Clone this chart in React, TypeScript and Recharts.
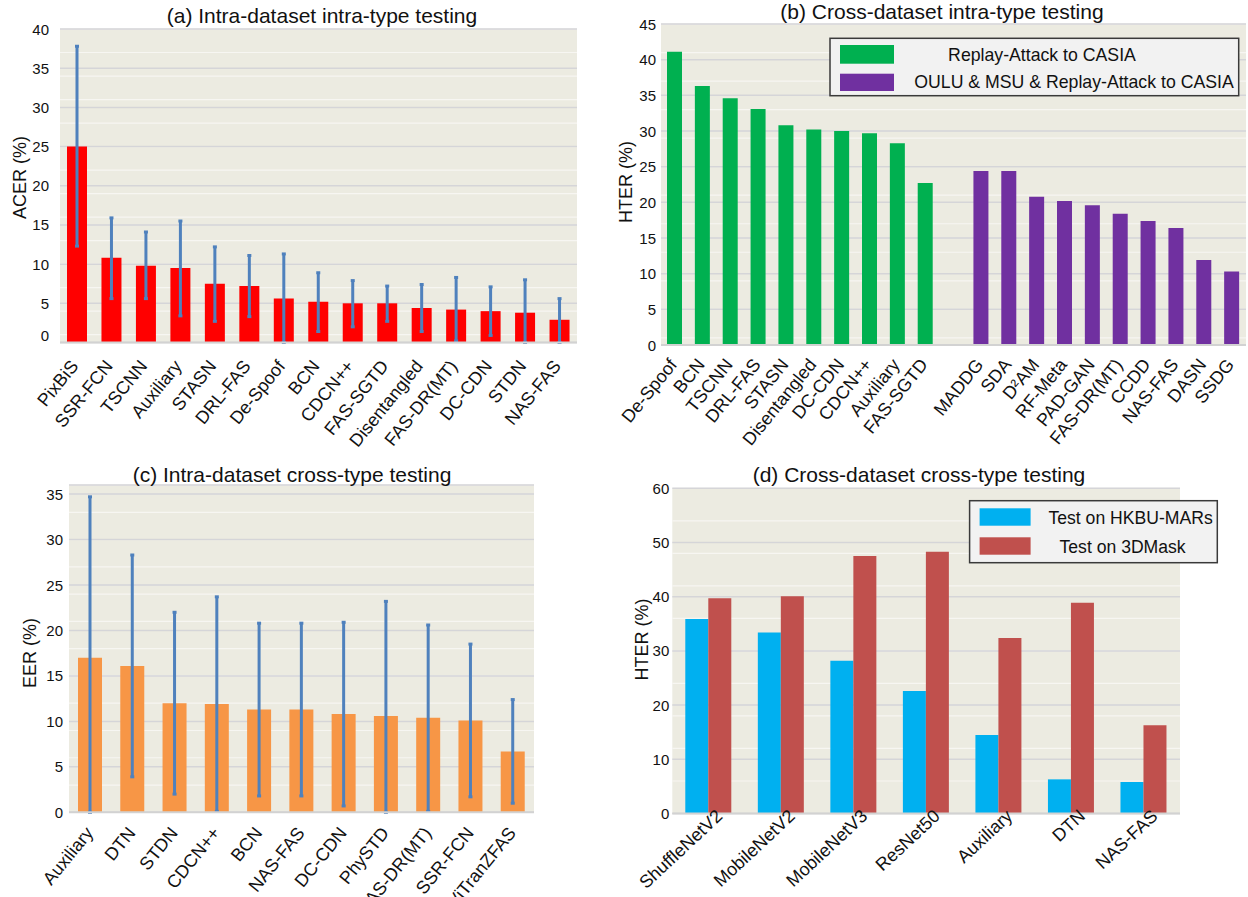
import React from "react"
import { Bar, BarChart, CartesianGrid, ErrorBar, XAxis, YAxis } from "recharts"

const FONT = '"Liberation Sans", Arial, Helvetica, sans-serif'
const BG = "#ecebe1"
const MINOR = "#f7f6f2"
const MAJOR = "#d5d5d8"
const ERR = "#4f81bd"

// (a) intra-dataset intra-type
const acerMethods = ["PixBiS", "SSR-FCN", "TSCNN", "Auxiliary", "STASN", "DRL-FAS", "De-Spoof", "BCN", "CDCN++", "FAS-SGTD", "Disentangled", "FAS-DR(MT)", "DC-CDN", "STDN", "NAS-FAS"]
const acerValues = [25.0, 10.8, 9.8, 9.5, 7.5, 7.2, 5.6, 5.2, 5.0, 5.0, 4.4, 4.2, 4.0, 3.8, 2.9]
const acerLow = [12.3, 5.6, 5.6, 3.4, 2.7, 3.3, 0, 1.4, 2.0, 2.7, 1.4, 0.2, 0.9, 0, 0]
const acerHigh = [37.8, 15.9, 14.1, 15.5, 12.2, 11.1, 11.3, 8.9, 7.9, 7.2, 7.4, 8.3, 7.1, 8.0, 5.6]
const acerTicks = [0, 5, 10, 15, 20, 25, 30, 35, 40]

// (b) cross-dataset intra-type
const raMethods = ["De-Spoof", "BCN", "TSCNN", "DRL-FAS", "STASN", "Disentangled", "DC-CDN", "CDCN++", "Auxiliary", "FAS-SGTD"]
const raValues = [41.1, 36.3, 34.6, 33.1, 30.8, 30.2, 30.0, 29.7, 28.3, 22.7]
const omrMethods = ["MADDG", "SDA", "D²AM", "RF-Meta", "PAD-GAN", "FAS-DR(MT)", "CCDD", "NAS-FAS", "DASN", "SSDG"]
const omrValues = [24.4, 24.4, 20.8, 20.2, 19.6, 18.4, 17.4, 16.4, 11.9, 10.3]
const crossTicks = [0, 5, 10, 15, 20, 25, 30, 35, 40, 45]

// (c) intra-dataset cross-type
const eerMethods = ["Auxiliary", "DTN", "STDN", "CDCN++", "BCN", "NAS-FAS", "DC-CDN", "PhySTD", "FAS-DR(MT)", "SSR-FCN", "ViTranZFAS"]
const eerValues = [17.0, 16.1, 12.0, 11.9, 11.3, 11.3, 10.8, 10.6, 10.4, 10.1, 6.7]
const eerLow = [0, 3.9, 2.0, 0.1, 1.8, 1.8, 0.7, 0, 0.1, 1.7, 1.0]
const eerHigh = [34.7, 28.3, 22.0, 23.7, 20.8, 20.8, 20.9, 23.2, 20.6, 18.5, 12.4]
const eerTicks = [0, 5, 10, 15, 20, 25, 30, 35]

// (d) cross-dataset cross-type
const hterMethods = ["ShuffleNetV2", "MobileNetV2", "MobileNetV3", "ResNet50", "Auxiliary", "DTN", "NAS-FAS"]
const hkbuValues = [35.9, 33.4, 28.2, 22.6, 14.5, 6.3, 5.8]
const mask3dValues = [39.7, 40.1, 47.5, 48.3, 32.4, 38.9, 16.3]
const hterTicks = [0, 10, 20, 30, 40, 50, 60]

// minor grid values, one line per step
const steps = (max: number, step: number) => {
  const out: number[] = []
  for (let v = 0; v <= max; v += step) out.push(v)
  return out
}

const acerData = acerMethods.map((name, i) => ({
  name,
  value: acerValues[i],
  err: [acerValues[i] - acerLow[i], acerHigh[i] - acerValues[i]],
}))

const crossData = [
  ...raMethods.map((name, i) => ({ name, ra: raValues[i], omr: null as number | null })),
  { name: "", ra: null, omr: null },
  ...omrMethods.map((name, i) => ({ name, ra: null as number | null, omr: omrValues[i] })),
]

const eerData = eerMethods.map((name, i) => ({
  name,
  value: eerValues[i],
  err: [eerValues[i] - eerLow[i], eerHigh[i] - eerValues[i]],
}))

const hterData = hterMethods.map((name, i) => ({ name, hkbu: hkbuValues[i], mask: mask3dValues[i] }))

function AngledTick(props: any) {
  const { x, y, payload, angle, dx, dy } = props
  const tx = x + dx
  const ty = y + dy
  return (
    <text
      x={tx}
      y={ty}
      transform={`rotate(${angle} ${tx} ${ty})`}
      textAnchor="end"
      fontSize={18}
      fontFamily={FONT}
      fill="#111"
    >
      {payload.value}
    </text>
  )
}

function ValueTick(props: any) {
  const { x, y, payload, zeroShift = 0 } = props
  const shift = payload.value === 0 ? zeroShift : 0
  return (
    <text x={x} y={y + shift} textAnchor="end" dominantBaseline="central" fontSize={15} fontFamily={FONT} fill="#111">
      {payload.value}
    </text>
  )
}

const axisLineStyle = { stroke: "#d2d2d2", strokeWidth: 2 }

export default function App() {
  return (
    <div style={{ position: "absolute", left: 0, top: 0, width: 1248, height: 897, background: "#fff", fontFamily: FONT }}>
      {/* (a) */}
      <div style={{ position: "absolute", left: 0, top: 0 }}>
        <BarChart width={620} height={450} data={acerData} margin={{ top: 29, right: 43, bottom: 0, left: 20 }}>
          <XAxis
            dataKey="name"
            interval={0}
            height={107.5}
            tickSize={0}
            tickMargin={0}
            tickLine={false}
            axisLine={axisLineStyle}
            tick={(p: any) => <AngledTick {...p} angle={-51} dx={2} dy={24} />}
          />
          <YAxis
            domain={[0, 40]}
            ticks={acerTicks}
            width={40}
            axisLine={false}
            tickLine={false}
            tickSize={0}
            tickMargin={11}
            tick={(p: any) => <ValueTick {...p} zeroShift={-7} />}
          />
          <CartesianGrid vertical={false} horizontalValues={steps(40, 1)} stroke={MINOR} strokeWidth={1.2} fill={BG} />
          <CartesianGrid vertical={false} stroke={MAJOR} strokeWidth={1.5} />
          <Bar dataKey="value" fill="#ff0000" barSize={20} isAnimationActive={false}>
            <ErrorBar dataKey="err" direction="y" width={2} strokeWidth={3} stroke={ERR} isAnimationActive={false} />
          </Bar>
        </BarChart>
      </div>

      {/* (b) */}
      <div style={{ position: "absolute", left: 600, top: 0 }}>
        <BarChart width={648} height={450} data={crossData} margin={{ top: 24, right: 2, bottom: 0, left: 25 }}>
          <XAxis
            dataKey="name"
            interval={0}
            height={105}
            tickSize={0}
            tickMargin={0}
            tickLine={false}
            axisLine={axisLineStyle}
            tick={(p: any) => <AngledTick {...p} angle={-51} dx={3} dy={20} />}
          />
          <YAxis
            domain={[0, 45]}
            ticks={crossTicks}
            width={36}
            axisLine={false}
            tickLine={false}
            tickSize={0}
            tickMargin={5}
            tick={(p: any) => <ValueTick {...p} />}
          />
          <CartesianGrid vertical={false} horizontalValues={steps(45, 1)} stroke={MINOR} strokeWidth={1.2} fill={BG} />
          <CartesianGrid vertical={false} stroke={MAJOR} strokeWidth={1.5} />
          <Bar dataKey="ra" stackId="s" fill="#00b050" barSize={15} isAnimationActive={false} />
          <Bar dataKey="omr" stackId="s" fill="#7030a0" barSize={15} isAnimationActive={false} />
        </BarChart>
      </div>

      {/* (c) */}
      <div style={{ position: "absolute", left: 0, top: 450 }}>
        <BarChart width={620} height={447} data={eerData} margin={{ top: 35, right: 86, bottom: 0, left: 29 }}>
          <XAxis
            dataKey="name"
            interval={0}
            height={84.7}
            tickSize={0}
            tickMargin={0}
            tickLine={false}
            axisLine={axisLineStyle}
            tick={(p: any) => <AngledTick {...p} angle={-51} dx={4} dy={21} />}
          />
          <YAxis
            domain={[0, 36]}
            ticks={eerTicks}
            width={40}
            axisLine={false}
            tickLine={false}
            tickSize={0}
            tickMargin={6}
            tick={(p: any) => <ValueTick {...p} />}
          />
          <CartesianGrid vertical={false} horizontalValues={steps(36, 1)} stroke={MINOR} strokeWidth={1.2} fill={BG} />
          <CartesianGrid vertical={false} stroke={MAJOR} strokeWidth={1.5} />
          <Bar dataKey="value" fill="#f79646" barSize={24} isAnimationActive={false}>
            <ErrorBar dataKey="err" direction="y" width={2} strokeWidth={3} stroke={ERR} isAnimationActive={false} />
          </Bar>
        </BarChart>
      </div>

      {/* (d) */}
      <div style={{ position: "absolute", left: 620, top: 450 }}>
        <BarChart width={628} height={447} data={hterData} barGap={0} margin={{ top: 38.3, right: 68, bottom: 0, left: 22.3 }}>
          <XAxis
            dataKey="name"
            interval={0}
            height={83.5}
            tickSize={0}
            tickMargin={0}
            tickLine={false}
            axisLine={axisLineStyle}
            tick={(p: any) => <AngledTick {...p} angle={-43} dx={15} dy={4} />}
          />
          <YAxis
            domain={[0, 60]}
            ticks={hterTicks}
            width={30}
            axisLine={false}
            tickLine={false}
            tickSize={0}
            tickMargin={3}
            tick={(p: any) => <ValueTick {...p} />}
          />
          <CartesianGrid vertical={false} horizontalValues={steps(60, 2)} stroke={MINOR} strokeWidth={1.2} fill={BG} />
          <CartesianGrid vertical={false} stroke={MAJOR} strokeWidth={1.5} />
          <Bar dataKey="hkbu" fill="#00b0f0" barSize={23} isAnimationActive={false} />
          <Bar dataKey="mask" fill="#c0504d" barSize={23} isAnimationActive={false} />
        </BarChart>
      </div>

      {/* titles, axis titles, legends */}
      <svg width={1248} height={897} style={{ position: "absolute", left: 0, top: 0, pointerEvents: "none" }} fontFamily={FONT}>
        <text x={322} y={22.7} textAnchor="middle" fontSize={21} fill="#111">(a) Intra-dataset intra-type testing</text>
        <text x={942} y={19} textAnchor="middle" fontSize={21} fill="#111">(b) Cross-dataset intra-type testing</text>
        <text x={292} y={481.7} textAnchor="middle" fontSize={21} fill="#111">(c) Intra-dataset cross-type testing</text>
        <text x={919} y={481.7} textAnchor="middle" fontSize={21} fill="#111">(d) Cross-dataset cross-type testing</text>

        <text transform="translate(20 177.5) rotate(-90)" textAnchor="middle" dominantBaseline="central" fontSize={18} fill="#111">ACER (%)</text>
        <text transform="translate(626 182) rotate(-90)" textAnchor="middle" dominantBaseline="central" fontSize={18} fill="#111">HTER (%)</text>
        <text transform="translate(30 653) rotate(-90)" textAnchor="middle" dominantBaseline="central" fontSize={18} fill="#111">EER (%)</text>
        <text transform="translate(642 639.5) rotate(-90)" textAnchor="middle" dominantBaseline="central" fontSize={18} fill="#111">HTER (%)</text>

        <rect x={830} y={38.3} width={408.7} height={57.4} fill="#f2f2f2" stroke="#3a3a3a" strokeWidth={1.5} />
        <rect x={840} y={45} width={54} height={18.7} fill="#00b050" />
        <rect x={840} y={73.7} width={54} height={17.3} fill="#7030a0" />
        <text x={1042} y={55} textAnchor="middle" dominantBaseline="central" fontSize={17.7} fill="#111">Replay-Attack to CASIA</text>
        <text x={1074} y={82.3} textAnchor="middle" dominantBaseline="central" fontSize={17.7} fill="#111">OULU &amp; MSU &amp; Replay-Attack to CASIA</text>

        <rect x={969.6} y={500.7} width={247.7} height={62} fill="#f2f2f2" stroke="#3a3a3a" strokeWidth={1.5} />
        <rect x={979.6} y={508.3} width={51} height={17.4} fill="#00b0f0" />
        <rect x={979.6} y={537.3} width={51} height={17.4} fill="#c0504d" />
        <text x={1130.6} y={518} textAnchor="middle" dominantBaseline="central" fontSize={17.6} fill="#111">Test on HKBU-MARs</text>
        <text x={1122.6} y={546.7} textAnchor="middle" dominantBaseline="central" fontSize={17.6} fill="#111">Test on 3DMask</text>
      </svg>
    </div>
  )
}
